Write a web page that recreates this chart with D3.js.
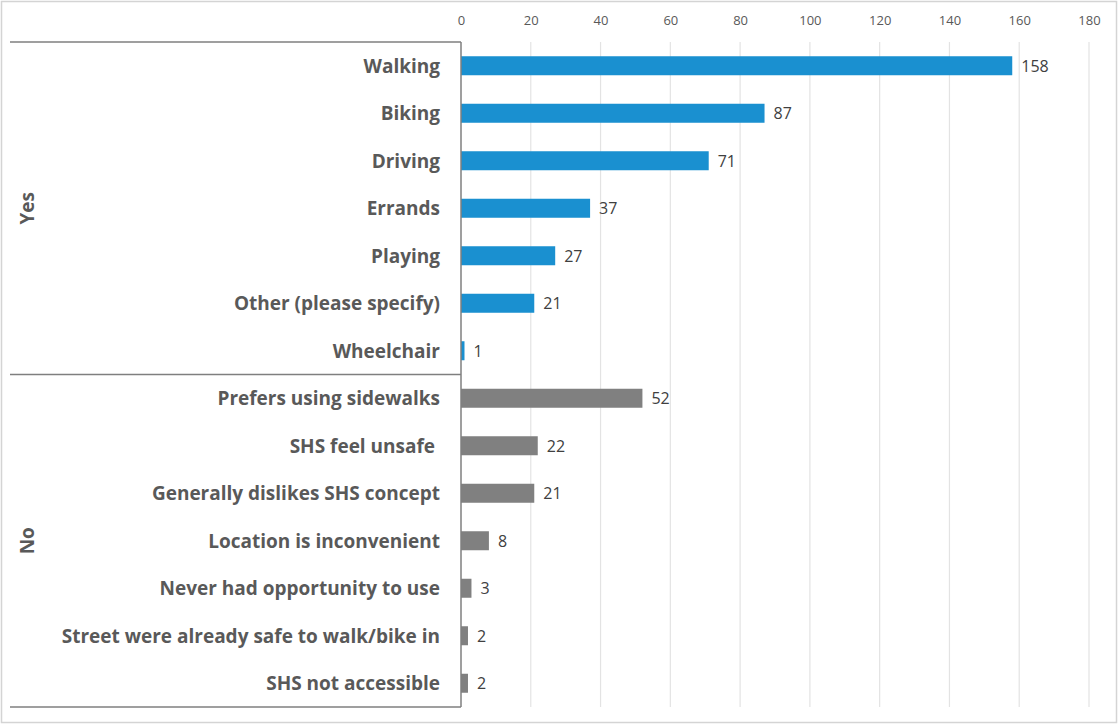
<!DOCTYPE html>
<html>
<head>
<meta charset="utf-8">
<script src="https://cdn.jsdelivr.net/npm/d3@7"></script>
<style>
  html, body { margin: 0; padding: 0; background: #fff; }
  svg { display: block; }
</style>
</head>
<body>
<svg id="chart" width="1119" height="725"></svg>
<script>
// Responses grouped by answer (Yes / No)
const yesCategories = ["Walking", "Biking", "Driving", "Errands", "Playing", "Other (please specify)", "Wheelchair"];
const yesValues = [158, 87, 71, 37, 27, 21, 1];
const noCategories = ["Prefers using sidewalks", "SHS feel unsafe ", "Generally dislikes SHS concept", "Location is inconvenient", "Never had opportunity to use", "Street were already safe to walk/bike in", "SHS not accessible"];
const noValues = [52, 22, 21, 8, 3, 2, 2];
const groupNames = ["Yes", "No"];
const xTicks = [0, 20, 40, 60, 80, 100, 120, 140, 160, 180];

const rows = [
  ...yesCategories.map((c, i) => ({ key: "Yes|" + c, label: c, value: yesValues[i], group: "Yes" })),
  ...noCategories.map((c, i) => ({ key: "No|" + c, label: c, value: noValues[i], group: "No" }))
];

const svg = d3.select("#chart");
const W = 1119, H = 725;
const plot = { left: 461, right: 1089, top: 42, bottom: 707 };
const boxLeft = 10;
const colors = { Yes: "#1a90d0", No: "#808080" };
const font = "'Open Sans', 'Liberation Sans', Arial, sans-serif";

// outer frame
svg.append("rect")
  .attr("x", 1.5).attr("y", 1.5).attr("width", W - 4).attr("height", H - 4)
  .attr("fill", "#fff").attr("stroke", "#d4d4d4").attr("stroke-width", 1.5);

const x = d3.scaleLinear().domain([0, 180]).range([plot.left, plot.right]);
const y = d3.scaleBand().domain(rows.map(r => r.key)).range([plot.top, plot.bottom]).paddingInner(0.6).paddingOuter(0.3);

// vertical gridlines
svg.append("g").selectAll("line")
  .data(xTicks.filter(t => t > 0))
  .join("line")
  .attr("x1", d => x(d)).attr("x2", d => x(d))
  .attr("y1", plot.top).attr("y2", plot.bottom)
  .attr("stroke", "#e3e3e3").attr("stroke-width", 1.2);

// top axis labels
const axis = d3.axisTop(x).tickValues(xTicks).tickSize(0).tickPadding(0);
const gAxis = svg.append("g").attr("transform", `translate(0, 25)`).call(axis);
gAxis.select(".domain").remove();
gAxis.selectAll("text")
  .attr("font-family", font).attr("font-size", 13).attr("fill", "#595959");

// bars
svg.append("g").selectAll("rect")
  .data(rows)
  .join("rect")
  .attr("x", x(0))
  .attr("y", d => y(d.key))
  .attr("width", d => x(d.value) - x(0))
  .attr("height", y.bandwidth())
  .attr("fill", d => colors[d.group]);

// value labels
svg.append("g").selectAll("text")
  .data(rows)
  .join("text")
  .attr("x", d => x(d.value) + 9)
  .attr("y", d => y(d.key) + y.bandwidth() / 2)
  .attr("dy", "0.36em")
  .attr("font-family", font).attr("font-size", 16).attr("fill", "#404040")
  .text(d => d.value);

// category labels
svg.append("g").selectAll("text")
  .data(rows)
  .join("text")
  .attr("x", 440)
  .attr("y", d => y(d.key) + y.bandwidth() / 2)
  .attr("dy", "0.36em")
  .attr("text-anchor", "end")
  .attr("font-family", font).attr("font-weight", "bold").attr("font-size", 19)
  .attr("fill", "#595959")
  .style("white-space", "pre")
  .text(d => d.label);

// group bracket lines
const sepY = plot.top + yesCategories.length * (plot.bottom - plot.top) / rows.length;
const boxStroke = "#7f7f7f";
const lines = [
  [boxLeft, plot.top, plot.left, plot.top],
  [boxLeft, sepY, plot.left, sepY],
  [boxLeft, plot.bottom, plot.left, plot.bottom],
  [plot.left, plot.top, plot.left, plot.bottom]
];
svg.append("g").selectAll("line")
  .data(lines)
  .join("line")
  .attr("x1", d => d[0]).attr("y1", d => d[1])
  .attr("x2", d => d[2]).attr("y2", d => d[3])
  .attr("stroke", boxStroke).attr("stroke-width", 1.5);

// group names, rotated
const groupSpans = [[plot.top, sepY], [sepY, plot.bottom]];
svg.append("g").selectAll("text")
  .data(groupNames)
  .join("text")
  .attr("transform", (d, i) => `translate(27, ${(groupSpans[i][0] + groupSpans[i][1]) / 2}) rotate(-90)`)
  .attr("text-anchor", "middle")
  .attr("dy", "0.36em")
  .attr("font-family", font).attr("font-weight", "bold").attr("font-size", 19)
  .attr("fill", "#595959")
  .text(d => d);
</script>
</body>
</html>
